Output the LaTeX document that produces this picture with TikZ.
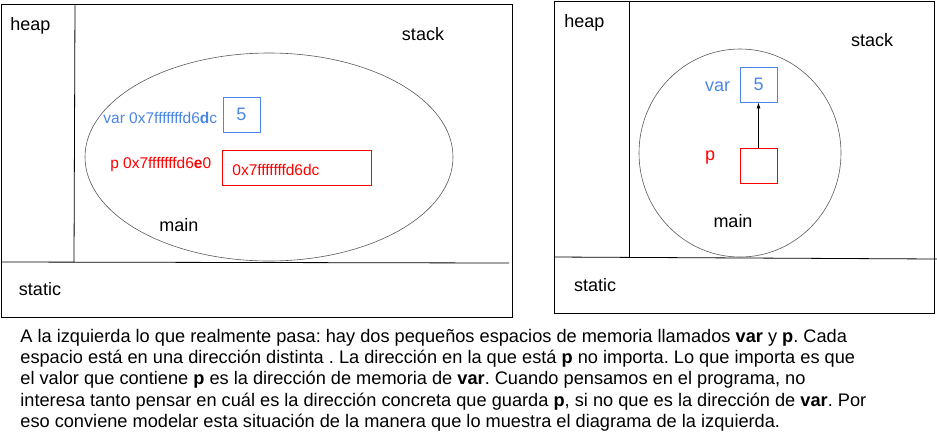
\documentclass[tikz,border=0pt]{standalone}
\usepackage{fontspec}
\setmainfont{Liberation Sans}
\usetikzlibrary{positioning,arrows.meta}
\definecolor{varblue}{HTML}{4A86E8}
\definecolor{pred}{HTML}{FF0000}
\definecolor{ringgray}{HTML}{595959}
\tikzset{
  lbl/.style={font=\fontsize{18}{20}\selectfont, inner sep=0pt},
  hex/.style={font=\fontsize{15.5}{18}\selectfont, inner sep=0pt},
  cell/.style={rectangle, draw, line width=0.9pt, inner sep=0pt,
    minimum width=37, minimum height=35},
}
\begin{document}
\begin{tikzpicture}[x=1pt, y=-1pt, line width=0.8pt]
  \useasboundingbox (0,0) rectangle (937,437);

  \draw (1,4) rectangle (512,317);
  \draw (75,4) -- (74,262);
  \draw (1,262) -- (509,263);
  \draw[ringgray, line width=0.6pt] (269,157) ellipse [x radius=184, y radius=104];

  \node[lbl, anchor=west] (heapL) at (10,26) {heap};
  \node[lbl] (stackL) at (423,34) {stack};
  \node[lbl] (staticL) at (40,289) {static};
  \node[lbl] (mainL) at (179,225) {main};

  \node[
  cell,
  draw=varblue,
  text=varblue,
  font=\fontsize{18}{20}\selectfont] (varboxL) at (241.5,114.5) {5\hspace{7pt}};

  \node[
  cell,
  draw=pred,
  minimum width=149] (pboxL) at (296.5,167.5) {};

  \node[hex, text=pred, anchor=west] (pvalL) at (232,170) {0x7fffffffd6dc};

  \node[hex, text=varblue, left=5 of varboxL, yshift=-3] (varnameL)
    {var 0x7fffffffd6\textbf{d}c};
  \node[hex, text=pred, left=10 of pboxL, yshift=3] (pnameL)
    {p 0x7fffffffd6\textbf{e}0};

  \draw (554,1) rectangle (934,313);
  \draw (629,1) -- (629,258);
  \draw (554,257) -- (937,259);
  \draw[ringgray, line width=0.6pt] (740,153) ellipse [x radius=101, y radius=104];

  \node[lbl, anchor=west] (heapR) at (564,23) {heap};
  \node[lbl] (stackR) at (872,40) {stack};
  \node[lbl] (staticR) at (595,285) {static};
  \node[lbl] (mainR) at (733,221) {main};

  \node[
  cell,
  draw=varblue,
  text=varblue,
  font=\fontsize{18}{20}\selectfont] (varboxR) at (758.5,84.5) {5\hspace{7pt}};

  \node[
  cell,
  draw=pred] (pboxR) at (758.5,165.5) {};

  \node[lbl, text=varblue, left=9 of varboxR, yshift=-2] (varnameR) {var};
  \node[lbl, text=pred] (pnameR) at (710,158) {p};

  \draw[-{Latex[length=6pt,width=4pt]}] (pboxR) -- (varboxR);

  \node[
  anchor=north west,
  align=left,
  inner sep=0pt,
  font=\fontsize{18.2}{21.2}\selectfont\frenchspacing] (note) at (20,329)
  {A la izquierda lo que realmente pasa: hay dos pequeños espacios de memoria llamados \textbf{var} y \textbf{p}. Cada\\
  espacio está en una dirección distinta . La dirección en la que está \textbf{p} no importa. Lo que importa es que\\
  el valor que contiene \textbf{p} es la dirección de memoria de \textbf{var}. Cuando pensamos en el programa, no\\
  interesa tanto pensar en cuál es la dirección concreta que guarda \textbf{p}, si no que es la dirección de \textbf{var}. Por\\
  eso conviene modelar esta situación de la manera que lo muestra el diagrama de la izquierda.};
\end{tikzpicture}
\end{document}
